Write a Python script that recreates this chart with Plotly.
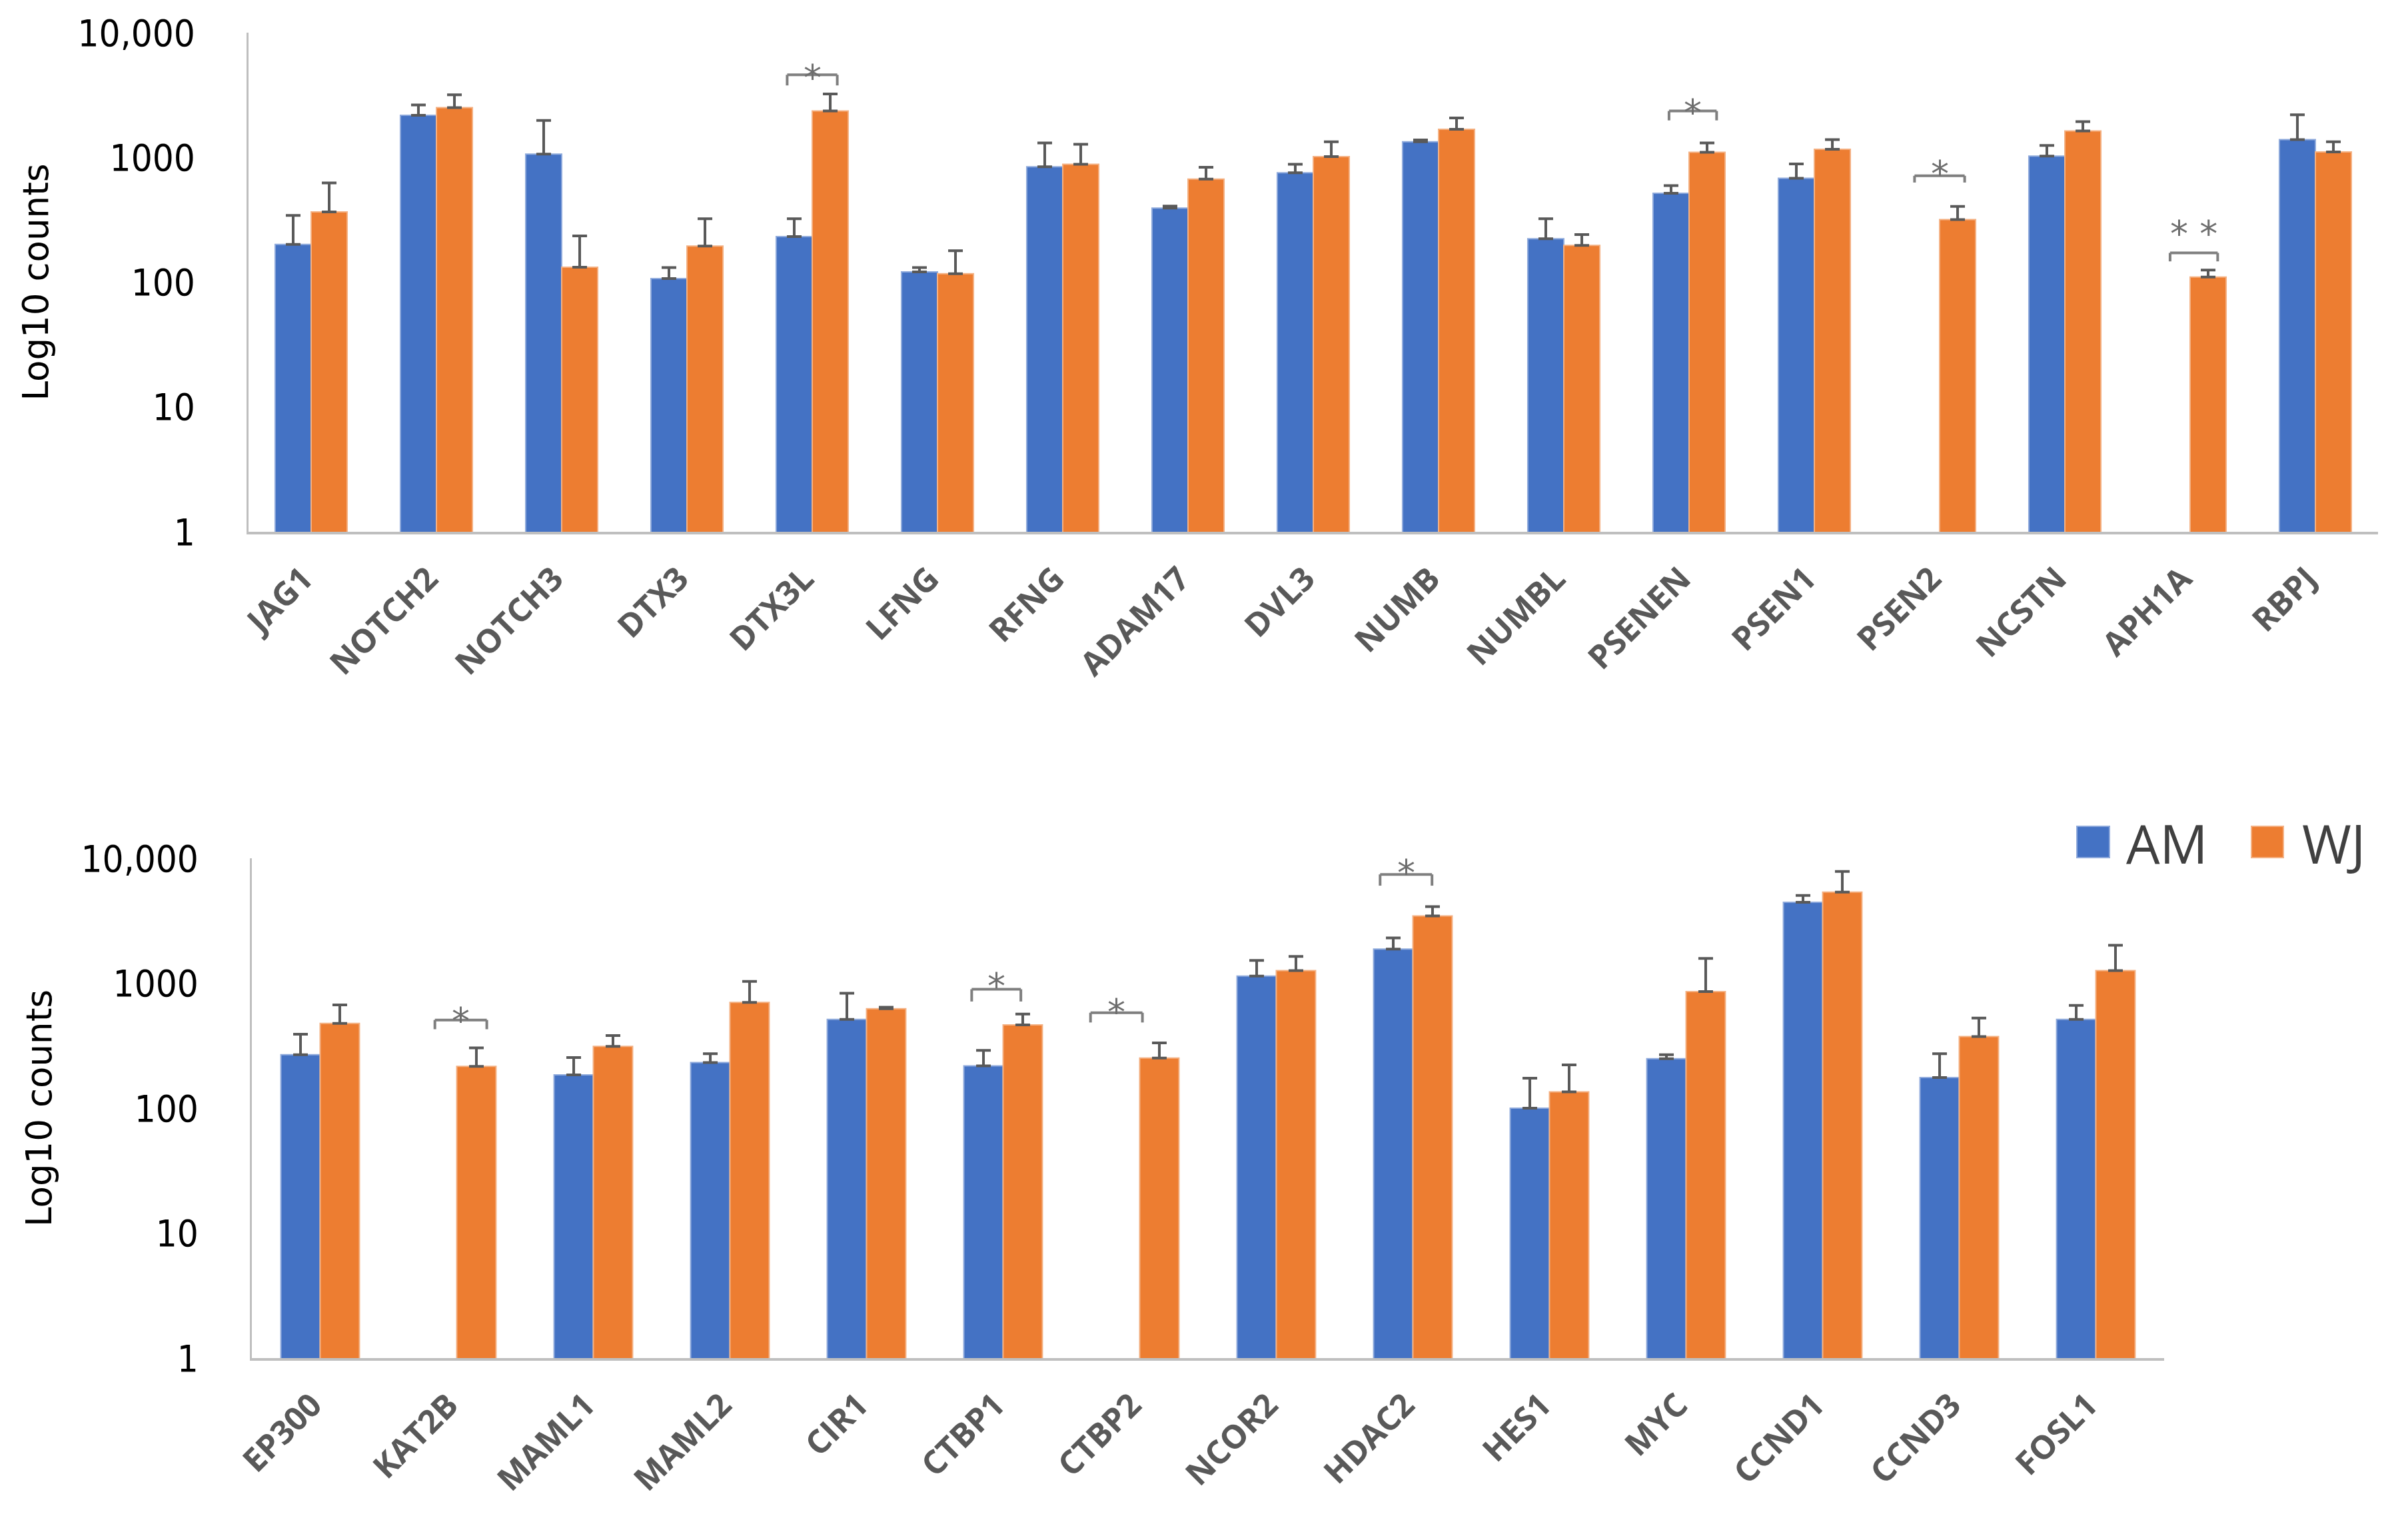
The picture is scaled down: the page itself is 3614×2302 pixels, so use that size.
import plotly.graph_objects as go

# ---------------- data ----------------
top_genes = ["JAG1", "NOTCH2", "NOTCH3", "DTX3", "DTX3L", "LFNG", "RFNG", "ADAM17", "DVL3",
             "NUMB", "NUMBL", "PSENEN", "PSEN1", "PSEN2", "NCSTN", "APH1A", "RBPJ"]
top_am = [201, 2177, 1065, 107, 232, 121, 841, 393, 754, 1337, 223, 517, 680, None, 1024, None, 1390]
top_am_err = [343, 2630, 1981, 131, 323, 131, 1306, 408, 882, 1380, 323, 595, 888, None, 1247, None, 2194]
top_wj = [366, 2508, 132, 195, 2355, 117, 882, 670, 1016, 1679, 197, 1099, 1161, 318, 1629, 110, 1107]
top_wj_err = [624, 3175, 235, 323, 3223, 179, 1276, 835, 1337, 2075, 241, 1306, 1390, 405, 1935, 125, 1337]

bot_genes = ["EP300", "KAT2B", "MAML1", "MAML2", "CIR1", "CTBP1", "CTBP2", "NCOR2", "HDAC2",
             "HES1", "MYC", "CCND1", "CCND3", "FOSL1"]
bot_am = [268, None, 185, 232, 513, 218, None, 1142, 1875, 100, 249, 4446, 176, 513]
bot_am_err = [391, None, 254, 273, 833, 290, None, 1523, 2305, 174, 268, 5045, 273, 665]
bot_wj = [477, 216, 312, 703, 625, 464, 252, 1262, 3457, 135, 857, 5370, 374, 1262]
bot_wj_err = [671, 304, 381, 1034, 642, 566, 333, 1637, 4102, 222, 1578, 7837, 526, 2014]

y_tickvals = [1, 10, 100, 1000, 10000]
y_ticktext = ["1", "10", "100", "1000", "10,000"]
series_names = ["AM", "WJ"]

# significance marks: (gene, label)
top_sig_genes = ["DTX3L", "PSENEN", "PSEN2", "APH1A"]
top_sig_labels = ["*", "*", "*", "* *"]
bot_sig_genes = ["KAT2B", "CTBP1", "CTBP2", "HDAC2"]
bot_sig_labels = ["*", "*", "*", "*"]

# ---------------- styling / layout ----------------
W, H = 3614, 2302
BLUE, ORANGE = "#4472C4", "#ED7D31"
BLUE_EDGE, ORANGE_EDGE = "#8FAADC", "#F4B183"
AXIS_COL = "#BFBFBF"
ERR_COL = "#595959"


def px_x(x):
    return x / W


def px_y(y):
    return (H - y) / H


def plus_err(vals, tops):
    return [(t - v) if (v is not None and t is not None) else 0 for v, t in zip(vals, tops)]


fig = go.Figure()


def add_pair(genes, am, am_err, wj, wj_err, xa, ya):
    for name, vals, tops, col, edge in [("AM", am, am_err, BLUE, BLUE_EDGE),
                                        ("WJ", wj, wj_err, ORANGE, ORANGE_EDGE)]:
        fig.add_trace(go.Bar(
            x=genes, y=vals, name=name, xaxis=xa, yaxis=ya, showlegend=False,
            marker=dict(color=col, line=dict(color=edge, width=2)),
            error_y=dict(type="data", symmetric=False, array=plus_err(vals, tops),
                         arrayminus=[0] * len(vals), color=ERR_COL, thickness=4, width=11),
        ))


add_pair(top_genes, top_am, top_am_err, top_wj, top_wj_err, "x", "y")
add_pair(bot_genes, bot_am, bot_am_err, bot_wj, bot_wj_err, "x2", "y2")

xtick_font = dict(family="Open Sans", size=49, color="#595959", weight="bold")
ytick_font = dict(family="DejaVu Sans Condensed, Liberation Sans Narrow, Liberation Sans",
                  size=56, color="#000000")
ytitle_font = dict(family="DejaVu Sans", size=53, color="#000000")

common_x = dict(showline=True, linecolor=AXIS_COL, linewidth=4, showgrid=False, zeroline=False,
                ticks="", tickangle=-45, tickfont=xtick_font, ticklabelstandoff=18,
                ticklabelshift=-12, automargin=False, fixedrange=True)
common_y = dict(type="log", range=[0, 4], tickvals=y_tickvals, ticktext=y_ticktext,
                showline=True, linecolor=AXIS_COL, linewidth=3, showgrid=False, zeroline=False,
                ticks="", tickfont=ytick_font, ticklabelstandoff=66, automargin=False,
                title=dict(text="Log10 counts", font=ytitle_font, standoff=28))

top_dom_x = [px_x(365), px_x(3561)]
top_dom_y = [px_y(790), px_y(41)]
bot_dom_x = [px_x(370), px_x(3240)]
bot_dom_y = [px_y(2030), px_y(1280)]

fig.update_layout(
    width=W, height=H, margin=dict(l=0, r=0, t=0, b=0),
    paper_bgcolor="white", plot_bgcolor="white",
    barmode="group", bargap=0.425, bargroupgap=0,
    xaxis=dict(common_x, domain=top_dom_x, anchor="y", range=[-0.5, len(top_genes) - 0.5]),
    yaxis=dict(common_y, domain=top_dom_y, anchor="x"),
    xaxis2=dict(common_x, domain=bot_dom_x, anchor="y2", range=[-0.5, len(bot_genes) - 0.5]),
    yaxis2=dict(common_y, domain=bot_dom_y, anchor="x2"),
)

# significance brackets (positions in log10 units on the axis, converted to domain fraction)
top_sig_geom = [  # (center offset, half width, top log, bottom log, star log)
    (0.0, 0.2, 3.662, 3.577, 3.816),
    (0.03, 0.19, 3.372, 3.297, 3.543),
    (0.0, 0.2, 2.853, 2.799, 3.048),
    (0.03, 0.19, 2.235, 2.167, 2.392),
]
bot_sig_geom = [
    (0.03, 0.19, 2.706, 2.632, 2.882),
    (-0.05, 0.18, 2.952, 2.854, 3.155),
    (-0.17, 0.19, 2.764, 2.686, 2.952),
    (-0.05, 0.19, 3.871, 3.781, 4.066),
]

BR_COL = "#7F7F7F"


def add_sig(genes, sig_genes, labels, geoms, xa, ya):
    for g, lab, (off, hw, yt, yb, ys) in zip(sig_genes, labels, geoms):
        i = genes.index(g)
        c = i + off
        yref = ya + " domain"
        for x0, y0, x1, y1 in [(c - hw, yt, c + hw, yt), (c - hw, yt, c - hw, yb), (c + hw, yt, c + hw, yb)]:
            fig.add_shape(type="line", xref=xa, yref=yref, x0=x0, x1=x1, y0=y0 / 4, y1=y1 / 4,
                          line=dict(color=BR_COL, width=4))
        fig.add_annotation(xref=xa, yref=yref, x=c, y=ys / 4, text=lab, showarrow=False,
                           font=dict(family="DejaVu Sans", size=54, color="#6E6E6E"))


add_sig(top_genes, top_sig_genes, top_sig_labels, top_sig_geom, "x", "y")
add_sig(bot_genes, bot_sig_genes, bot_sig_labels, bot_sig_geom, "x2", "y2")

# legend (drawn as swatches + labels)
leg_items = [(3109, 3158, 3181, BLUE, BLUE_EDGE), (3371, 3419, 3445, ORANGE, ORANGE_EDGE)]
for name, (sx0, sx1, tx, col, edge) in zip(series_names, leg_items):
    fig.add_shape(type="rect", xref="paper", yref="paper", x0=px_x(sx0), x1=px_x(sx1),
                  y0=px_y(1279), y1=px_y(1232), fillcolor=col, line=dict(color=edge, width=2))
    fig.add_annotation(xref="paper", yref="paper", x=px_x(tx), y=px_y(1256), text=name,
                       showarrow=False, xanchor="left", yanchor="middle",
                       font=dict(family="Open Sans", size=80, color="#404040"))

fig.write_html("out.html")
